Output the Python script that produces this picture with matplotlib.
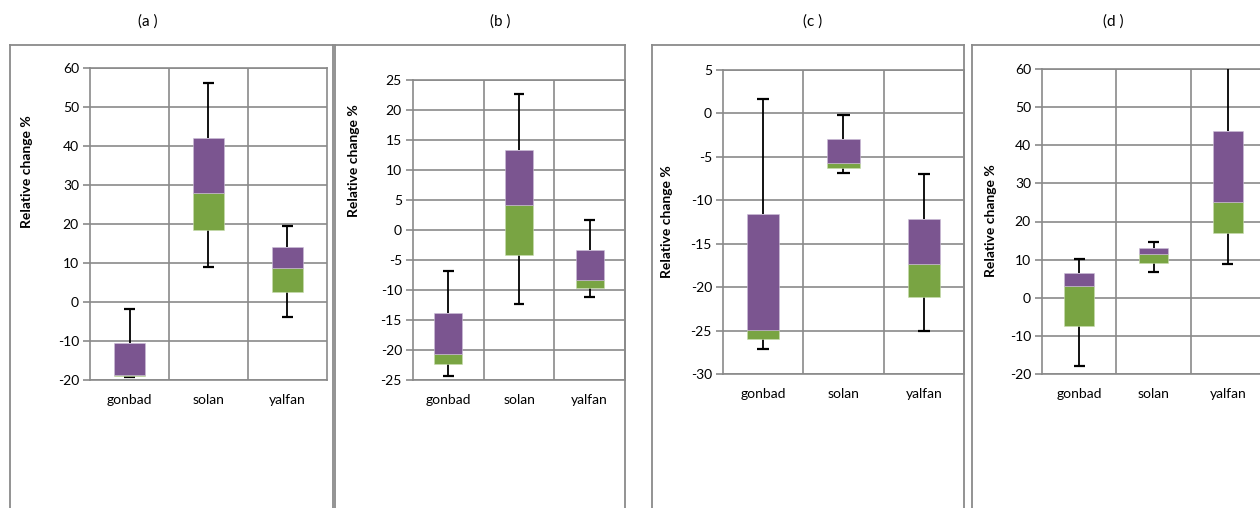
import numpy as np
import matplotlib
matplotlib.use('Agg')
import matplotlib.pyplot as plt
from matplotlib.lines import Line2D

plt.rcParams['font.family'] = ['Lato', 'DejaVu Sans']

W = 1260
H = 508
grey = '#8a8a8a'
purple = '#7b5590'
green = '#79a443'

sites = ['gonbad', 'solan', 'yalfan']

# relative change % : min, Q1, median, Q3, max for each site
a_min = [-19.3, 9.0, -3.8]
a_q1 = [-19.0, 18.5, 2.5]
a_med = [-18.7, 27.9, 8.8]
a_q3 = [-10.4, 42.0, 14.0]
a_max = [-1.9, 56.2, 19.4]

b_min = [-24.3, -12.4, -11.1]
b_q1 = [-22.4, -4.1, -9.7]
b_med = [-20.7, 4.2, -8.3]
b_q3 = [-13.8, 13.3, -3.3]
b_max = [-6.8, 22.6, 1.7]

c_min = [-27.1, -6.9, -25.0]
c_q1 = [-26.0, -6.3, -21.1]
c_med = [-24.9, -5.7, -17.3]
c_q3 = [-11.6, -2.9, -12.1]
c_max = [1.7, -0.2, -7.0]

d_min = [-18.0, 6.8, 8.8]
d_q1 = [-7.3, 9.1, 17.0]
d_med = [3.0, 11.5, 25.0]
d_q3 = [6.4, 13.0, 43.7]
d_max = [10.1, 14.5, 62.0]

titles = ['(a )', '(b )', '(c )', '(d )']
ylims = [(-20, 60, 10), (-25, 25, 5), (-30, 5, 5), (-20, 60, 10)]

# pixel layout: plot area (left, top, right, bottom), outer frame (left, right),
# title x, y-label (x, y)
plot_px = [(90, 68, 327, 380), (413, 80, 625, 380), (723, 70, 964, 374), (1042, 69, 1265, 374)]
frame_px = [(10, 333), (335, 625), (652, 964), (972, 1262)]
title_x = [148, 500, 813, 1113]
ylab_xy = [(27, 172), (354, 161), (667, 222), (991, 221)]


def fx(x):
    return x / W


def fy(y):
    return 1 - y / H


def frame(fig, left, right):
    top = 44.5
    for xs, ys in [([left, left], [H + 5, top]), ([left, right], [top, top]), ([right, right], [top, H + 5])]:
        fig.add_artist(Line2D([fx(x) for x in xs], [fy(y) for y in ys], color=grey, lw=1.3))


def panel(fig, k, mn, q1, med, q3, mx):
    l, t, r, b = plot_px[k]
    ax = fig.add_axes([fx(l), fy(b), (r - l) / W, (b - t) / H])
    lo, hi, step = ylims[k]
    x = np.arange(len(sites))
    q1 = np.array(q1)
    med = np.array(med)
    q3 = np.array(q3)
    # whiskers
    ax.vlines(x, q3, mx, color='black', lw=1.3, zorder=3)
    ax.vlines(x, mn, q1, color='black', lw=1.3, zorder=3)
    ax.hlines(mx, x - 0.075, x + 0.075, color='black', lw=1.6, zorder=3)
    ax.hlines(mn, x - 0.075, x + 0.075, color='black', lw=1.6, zorder=3)
    # stacked box: lower half green, upper half purple
    ax.bar(x, med - q1, bottom=q1, width=0.4, color=green, edgecolor='#c9dcb0', lw=0.4, zorder=4)
    ax.bar(x, q3 - med, bottom=med, width=0.4, color=purple, edgecolor='#cdbfd8', lw=0.4, zorder=4)
    ax.set_xlim(-0.5, 2.5)
    ax.set_ylim(lo, hi)
    ax.set_yticks(np.arange(lo, hi + 0.1, step))
    ax.set_yticklabels(['%d' % v for v in np.arange(lo, hi + 0.1, step)])
    ax.set_xticks(x)
    ax.set_xticklabels(sites)
    ax.grid(axis='y', color=grey, lw=1.2, zorder=0)
    for xv in [0.5, 1.5]:
        ax.axvline(xv, color=grey, lw=1.2, zorder=0)
    ax.set_axisbelow(True)
    for s in ax.spines.values():
        s.set_color(grey)
        s.set_linewidth(1.2)
    ax.tick_params(axis='y', length=5, width=1.2, color=grey, pad=3, labelsize=10)
    ax.tick_params(axis='x', length=0, pad=10, labelsize=10)
    frame(fig, *frame_px[k])
    fig.text(fx(title_x[k]), fy(22), titles[k], ha='center', va='center', fontsize=11)
    fig.text(fx(ylab_xy[k][0]), fy(ylab_xy[k][1]), 'Relative change %', rotation=90,
             ha='center', va='center', fontsize=10, fontweight='bold')
    return ax


fig = plt.figure(figsize=(W / 100, H / 100), dpi=100)
panel(fig, 0, a_min, a_q1, a_med, a_q3, a_max)
panel(fig, 1, b_min, b_q1, b_med, b_q3, b_max)
panel(fig, 2, c_min, c_q1, c_med, c_q3, c_max)
panel(fig, 3, d_min, d_q1, d_med, d_q3, d_max)
fig.savefig('out.png', dpi=100)
